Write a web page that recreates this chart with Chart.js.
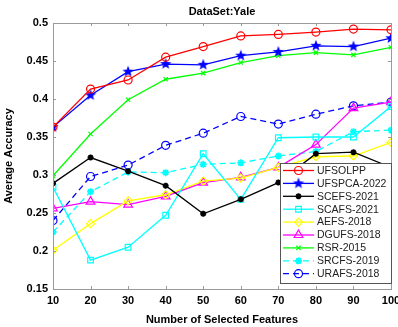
<!DOCTYPE html>
<html>
<head>
<meta charset="utf-8">
<script src="https://cdn.jsdelivr.net/npm/chart.js@4.4.0/dist/chart.umd.min.js"></script>
<style>
  html, body { margin: 0; padding: 0; background: #fff; }
  #wrap { width: 398px; height: 327px; }
</style>
</head>
<body>
<div id="wrap"><canvas id="grafico" width="398" height="327"></canvas></div>
<script>
// numero de features selecionadas (eixo x)
const features = [10, 20, 30, 40, 50, 60, 70, 80, 90, 100];
const yTicks = [0.15, 0.2, 0.25, 0.3, 0.35, 0.4, 0.45, 0.5];

// acuracia media de cada metodo
const ufsolpp = [0.363, 0.413, 0.425, 0.455, 0.469, 0.483, 0.485, 0.488, 0.492, 0.491];
const ufspca  = [0.363, 0.405, 0.436, 0.446, 0.445, 0.457, 0.462, 0.470, 0.469, 0.480];
const scefs   = [0.289, 0.323, 0.305, 0.286, 0.249, 0.268, 0.290, 0.328, 0.330, 0.310];
const scafs   = [0.284, 0.188, 0.205, 0.247, 0.328, 0.268, 0.349, 0.350, 0.350, 0.390];
const aefs    = [0.201, 0.236, 0.266, 0.274, 0.292, 0.296, 0.310, 0.324, 0.325, 0.343];
const dgufs   = [0.256, 0.265, 0.261, 0.272, 0.290, 0.297, 0.310, 0.340, 0.388, 0.396];
const rsr     = [0.299, 0.354, 0.399, 0.426, 0.434, 0.448, 0.457, 0.461, 0.458, 0.468];
const srcfs   = [0.225, 0.278, 0.304, 0.303, 0.314, 0.316, 0.325, 0.331, 0.357, 0.359];
const urafs   = [0.240, 0.298, 0.313, 0.339, 0.355, 0.377, 0.367, 0.380, 0.391, 0.396];

const fonte = "'Liberation Sans', Arial, sans-serif";

// estrela de 5 pontas preenchida (o chart.js so tem o asterisco)
function pentagrama(cor, r) {
    const c = document.createElement("canvas");
    const s = Math.ceil(r * 2 + 2);
    c.width = s; c.height = s;
    const ctx = c.getContext("2d");
    ctx.beginPath();
    for (let i = 0; i < 10; i++) {
        const ang = -Math.PI / 2 + i * Math.PI / 5;
        const rr = i % 2 === 0 ? r : r * 0.42;
        ctx.lineTo(s / 2 + rr * Math.cos(ang), s / 2 + rr * Math.sin(ang));
    }
    ctx.closePath();
    ctx.fillStyle = cor;
    ctx.fill();
    return c;
}
const estrelaAzul = pentagrama("#0000ff", 6);

function serie(label, valores, cor, estilo, extra) {
    return Object.assign({
        label: label,
        data: features.map((f, i) => ({ x: f, y: valores[i] })),
        borderColor: cor,
        backgroundColor: "transparent",
        borderWidth: 1.3,
        pointStyle: estilo,
        pointRadius: 4,
        pointBorderColor: cor,
        pointBackgroundColor: "transparent",
        pointBorderWidth: 1.2,
        tension: 0
    }, extra || {});
}

const datasets = [
    serie("UFSOLPP", ufsolpp, "#ff0000", "circle"),
    serie("UFSPCA-2022", ufspca, "#0000ff", estrelaAzul),
    serie("SCEFS-2021", scefs, "#000000", "star", { pointRadius: 3, pointBorderWidth: 1.8 }),
    serie("SCAFS-2021", scafs, "#00ffff", "rect", { pointRadius: 4 }),
    serie("AEFS-2018", aefs, "#ffff00", "rectRot"),
    serie("DGUFS-2018", dgufs, "#ff00ff", "triangle", { pointRadius: 5 }),
    serie("RSR-2015", rsr, "#00ff00", "crossRot", { pointRadius: 3 }),
    serie("SRCFS-2019", srcfs, "#00ffff", "star", { borderDash: [6, 4], pointRadius: 3.5, pointBorderWidth: 1.8 }),
    serie("URAFS-2018", urafs, "#0000ff", "circle", { borderDash: [6, 4] })
];

// titulo, moldura com ticks para dentro e legenda dentro da area do grafico
const molduraPlugin = {
    id: "moldura",
    afterDraw(chart) {
        const ctx = chart.ctx;
        const a = chart.chartArea;
        const sx = chart.scales.x, sy = chart.scales.y;
        ctx.save();
        ctx.strokeStyle = "#9a9a9a";
        ctx.lineWidth = 1;
        ctx.strokeRect(a.left + 0.5, a.top + 0.5, a.right - a.left, a.bottom - a.top);
        features.forEach(f => {
            const px = Math.round(sx.getPixelForValue(f)) + 0.5;
            ctx.beginPath();
            ctx.moveTo(px, a.bottom); ctx.lineTo(px, a.bottom - 3);
            ctx.moveTo(px, a.top); ctx.lineTo(px, a.top + 3);
            ctx.stroke();
        });
        yTicks.forEach(v => {
            const py = Math.round(sy.getPixelForValue(v)) + 0.5;
            ctx.beginPath();
            ctx.moveTo(a.left, py); ctx.lineTo(a.left + 3, py);
            ctx.moveTo(a.right, py); ctx.lineTo(a.right - 3, py);
            ctx.stroke();
        });

        // titulo
        ctx.fillStyle = "#000";
        ctx.font = "bold 11px " + fonte;
        ctx.textAlign = "center";
        ctx.textBaseline = "middle";
        ctx.fillText("DataSet:Yale", (a.left + a.right) / 2, 12);

        // legenda
        const lw = 111, lh = 120, passo = 12.9;
        const lx = a.right - lw, ly = 163;
        ctx.fillStyle = "#fff";
        ctx.fillRect(lx, ly, lw, lh);
        ctx.strokeStyle = "#555";
        ctx.strokeRect(lx + 0.5, ly + 0.5, lw, lh);
        chart.data.datasets.forEach((ds, i) => {
            const y = ly + 7.5 + i * passo;
            ctx.save();
            ctx.strokeStyle = ds.borderColor;
            ctx.lineWidth = ds.borderWidth;
            ctx.setLineDash(ds.borderDash || []);
            ctx.beginPath();
            ctx.moveTo(lx + 3, y); ctx.lineTo(lx + 34, y);
            ctx.stroke();
            ctx.setLineDash([]);
            ctx.lineWidth = ds.pointBorderWidth;
            ctx.fillStyle = "rgba(0,0,0,0)";
            Chart.helpers.drawPoint(ctx, {
                pointStyle: ds.pointStyle,
                radius: ds.pointRadius,
                rotation: 0,
                borderWidth: ds.pointBorderWidth
            }, lx + 18.5, y);
            ctx.restore();
            ctx.fillStyle = "#222";
            ctx.font = "10.5px " + fonte;
            ctx.textAlign = "left";
            ctx.fillText(ds.label, lx + 37, y + 0.5);
        });
        ctx.restore();
    }
};

new Chart(document.getElementById("grafico"), {
    type: "line",
    data: { datasets: datasets },
    options: {
        responsive: false,
        animation: false,
        layout: { padding: { top: 23, right: 7, left: 0, bottom: 0 } },
        plugins: {
            legend: { display: false },
            tooltip: { enabled: false }
        },
        scales: {
            x: {
                type: "linear",
                min: 10,
                max: 100,
                afterBuildTicks: s => { s.ticks = features.map(v => ({ value: v })); },
                afterFit: s => { s.height = 38; s.paddingRight = 0; s.paddingLeft = 0; },
                grid: { display: false, drawTicks: false },
                border: { display: false },
                ticks: {
                    color: "#000",
                    padding: 5,
                    maxRotation: 0,
                    font: { family: fonte, size: 11, weight: "bold" }
                },
                title: {
                    display: true,
                    text: "Number of Selected Features",
                    color: "#000",
                    padding: { top: 2, bottom: 0 },
                    font: { family: fonte, size: 11, weight: "bold" }
                }
            },
            y: {
                min: 0.15,
                max: 0.5,
                afterBuildTicks: s => { s.ticks = yTicks.map(v => ({ value: v })); },
                afterFit: s => { s.width = 53; s.paddingTop = 0; s.paddingBottom = 0; },
                grid: { display: false, drawTicks: false },
                border: { display: false },
                ticks: {
                    color: "#000",
                    padding: 5,
                    font: { family: fonte, size: 11, weight: "bold" },
                    callback: v => String(Math.round(v * 100) / 100)
                },
                title: {
                    display: true,
                    text: "Average Accuracy",
                    color: "#000",
                    padding: { top: 2, bottom: 2 },
                    font: { family: fonte, size: 11, weight: "bold" }
                }
            }
        }
    },
    plugins: [molduraPlugin]
});
</script>
</body>
</html>
